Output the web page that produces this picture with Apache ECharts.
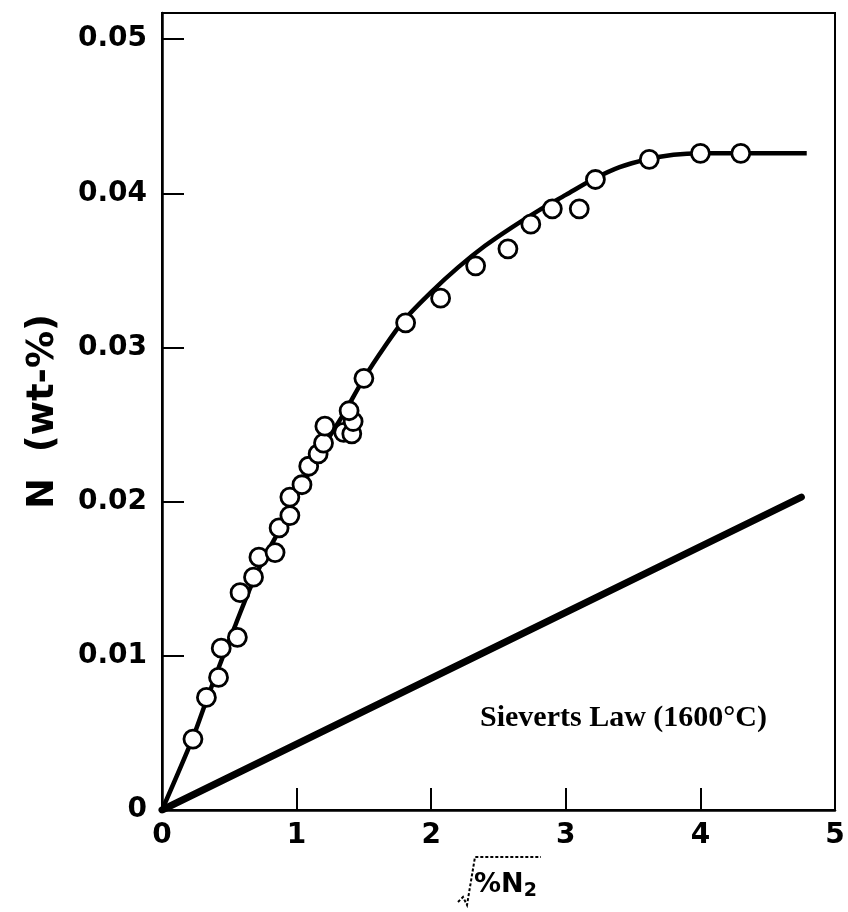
<!DOCTYPE html>
<html>
<head>
<meta charset="utf-8">
<script src="https://cdn.jsdelivr.net/npm/echarts@6/dist/echarts.min.js"></script>
<style>
  html, body { margin: 0; padding: 0; background: #fff; }
  #chart { width: 848px; height: 912px; }
</style>
</head>
<body>
<div id="chart"></div>
<script>
// Measured points: x = sqrt(%N2), y = N (wt-%)
var measuredX = [0.23, 0.33, 0.42, 0.44, 0.56, 0.58, 0.68, 0.72, 0.84, 0.87, 0.95, 0.95, 1.04, 1.09, 1.16, 1.20, 1.21, 1.35, 1.41, 1.42, 1.39, 1.50, 1.81, 2.07, 2.33, 2.57, 2.74, 2.90, 3.10, 3.22, 3.62, 4.00, 4.30];
var measuredY = [0.0046, 0.0073, 0.0086, 0.0105, 0.0112, 0.0141, 0.0151, 0.0164, 0.0167, 0.0183, 0.0191, 0.0203, 0.0211, 0.0223, 0.0231, 0.0238, 0.0249, 0.0245, 0.0244, 0.0252, 0.0259, 0.0280, 0.0316, 0.0332, 0.0353, 0.0364, 0.0380, 0.0390, 0.0390, 0.0409, 0.0422, 0.0426, 0.0426];

// Fitted curve through the data
var curveX = [0, 0.23, 0.33, 0.45, 0.55, 0.65, 0.75, 0.85, 0.95, 1.05, 1.15, 1.25, 1.35, 1.5, 1.65, 1.8, 2.0, 2.2, 2.4, 2.6, 2.8, 3.0, 3.2, 3.4, 3.6, 3.8, 4.0, 4.79];
var curveY = [0, 0.0047, 0.0071, 0.0099, 0.0121, 0.0143, 0.0162, 0.0178, 0.0195, 0.0212, 0.0228, 0.0243, 0.0257, 0.0280, 0.0300, 0.0318, 0.0336, 0.0352, 0.0366, 0.0378, 0.0389, 0.0399, 0.0409, 0.0417, 0.0422, 0.0425, 0.0426, 0.0426];

// Sieverts law line
var sievertsX = [0, 4.75];
var sievertsY = [0, 0.0203];

var xTicks = [0, 1, 2, 3, 4, 5];
var yTicks = [0, 0.01, 0.02, 0.03, 0.04, 0.05];

function zip(a, b) { return a.map(function (v, i) { return [v, b[i]]; }); }

var chart = echarts.init(document.getElementById('chart'), null, { renderer: 'canvas' });
var labelFont = 'DejaVu Sans';
chart.setOption({
  backgroundColor: '#ffffff',
  animation: false,
  grid: {
    left: 162, right: 13, top: 13, bottom: 102,
    show: true, borderColor: '#000', borderWidth: 2, backgroundColor: 'transparent'
  },
  xAxis: {
    type: 'value', min: 0, max: 5, interval: 1,
    axisLine: { lineStyle: { color: '#000', width: 2.5 } },
    axisTick: { inside: true, length: 22, lineStyle: { color: '#000', width: 2 } },
    splitLine: { show: false },
    axisLabel: {
      color: '#000', fontFamily: labelFont, fontWeight: 'bold', fontSize: 28, margin: 12,
      formatter: function (v) { return xTicks.indexOf(v) >= 0 ? String(v) : ''; }
    },
    name: '{a|%N}{b|2}',
    nameLocation: 'middle', nameGap: 58,
    nameTextStyle: {
      padding: [0, 0, 0, 14],
      rich: {
        a: { fontFamily: labelFont, fontWeight: 'bold', fontSize: 27, color: '#000' },
        b: { fontFamily: labelFont, fontWeight: 'bold', fontSize: 19, color: '#000', padding: [14, 0, 0, 0] }
      }
    }
  },
  yAxis: {
    type: 'value', min: 0, max: 0.0517, interval: 0.01,
    axisLine: { lineStyle: { color: '#000', width: 2.5 } },
    axisTick: { inside: true, length: 22, lineStyle: { color: '#000', width: 2 } },
    splitLine: { show: false },
    axisLabel: {
      color: '#000', fontFamily: labelFont, fontWeight: 'bold', fontSize: 28, margin: 15, showMaxLabel: false,
      formatter: function (v) {
        for (var i = 0; i < yTicks.length; i++) {
          if (Math.abs(v - yTicks[i]) < 1e-9) return v === 0 ? '0' : yTicks[i].toFixed(2);
        }
        return '';
      }
    },
    name: 'N  (wt-%)',
    nameLocation: 'middle', nameRotate: 90, nameGap: 100,
    nameTextStyle: { fontFamily: labelFont, fontWeight: 'bold', fontSize: 37, color: '#000', padding: [0, 0, 0, 0] }
  },
  graphic: [
    {
      type: 'polyline', silent: true, z: 100,
      shape: { points: [[458, 902], [463, 897], [467, 905], [475, 857], [541, 857]] },
      style: { stroke: '#000', lineWidth: 2, fill: null, lineDash: [3, 2] }
    },
    {
      type: 'text', silent: true, z: 100, left: 480, top: 703,
      style: {
        text: 'Sieverts Law (1600\u00B0C)',
        font: 'bold 30px "Liberation Serif", "Times New Roman", serif',
        fill: '#000'
      }
    }
  ],
  series: [
    {
      name: 'Sieverts', type: 'line', data: zip(sievertsX, sievertsY),
      showSymbol: false, symbol: 'none',
      lineStyle: { color: '#000', width: 7, cap: 'round' }, z: 2
    },
    {
      name: 'fit', type: 'line', data: zip(curveX, curveY),
      showSymbol: false, symbol: 'none', smooth: 0.3,
      lineStyle: { color: '#000', width: 4.5 }, z: 3
    },
    {
      name: 'measured', type: 'scatter', data: zip(measuredX, measuredY),
      symbol: 'circle', symbolSize: 18,
      itemStyle: { color: '#fff', borderColor: '#000', borderWidth: 2.8, opacity: 1 }, z: 5
    }
  ]
});
</script>
</body>
</html>
